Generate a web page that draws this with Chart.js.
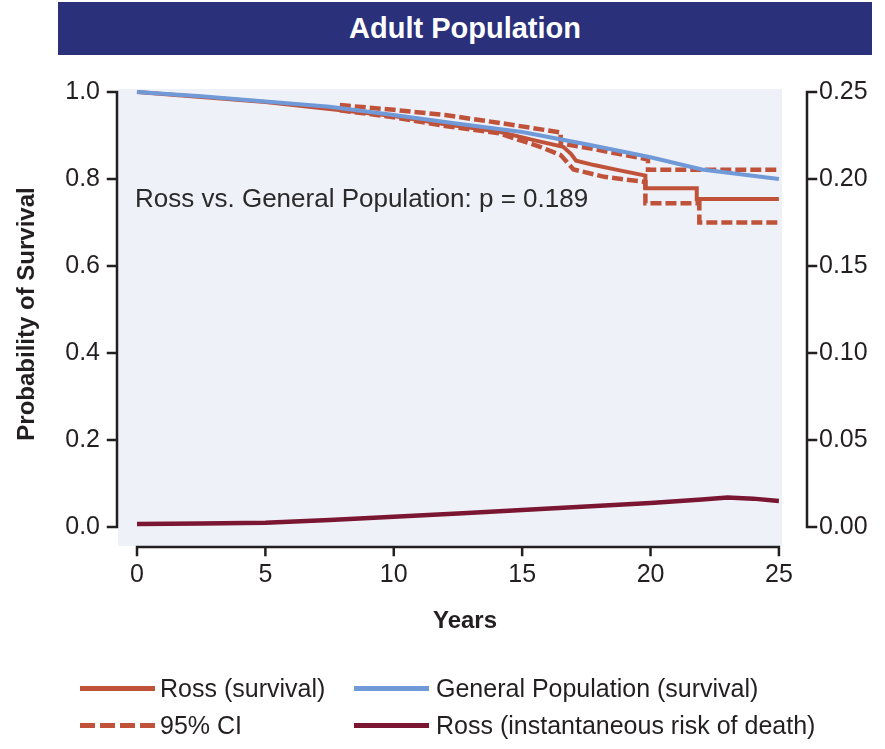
<!DOCTYPE html>
<html>
<head>
<meta charset="utf-8">
<script src="https://cdn.jsdelivr.net/npm/chart.js@4.4.1/dist/chart.umd.min.js"></script>
<style>
  body { margin: 0; background: #fff; font-family: "Liberation Sans", Arial, sans-serif; }
  #wrap { position: relative; width: 885px; height: 749px; }
  #chart { position: absolute; left: 0; top: 0; }
  .title { position: absolute; left: 58px; top: 2px; width: 814px; height: 53px; background: #2b307a;
           color: #fff; font-weight: bold; font-size: 29px; line-height: 53px; text-align: center; }
  .lg { position: absolute; font-size: 25px; color: #231f20; line-height: 30px; white-space: nowrap; }
  .sw { position: absolute; height: 5px; width: 75px; }
</style>
</head>
<body>
<div id="wrap">
  <canvas id="chart" width="885" height="749"></canvas>
  <div class="title">Adult Population</div>

  <div class="sw" style="left:80px;top:686px;background:#c0523a"></div>
  <div class="lg" style="left:160px;top:673px">Ross (survival)</div>
  <div class="sw" style="left:354px;top:686px;background:#7099d8"></div>
  <div class="lg" style="left:436px;top:673px">General Population (survival)</div>

  <div class="sw" style="left:80px;top:723px;background:repeating-linear-gradient(to right,#c0523a 0 15px,transparent 15px 20px)"></div>
  <div class="lg" style="left:160px;top:710px">95% CI</div>
  <div class="sw" style="left:354px;top:723px;background:#7a1632"></div>
  <div class="lg" style="left:436px;top:710px">Ross (instantaneous risk of death)</div>
</div>

<script>
// ── Data ──────────────────────────────────────────────────────────────────────
const xTicks     = [0, 5, 10, 15, 20, 25];
const leftTicks  = [0, 0.2, 0.4, 0.6, 0.8, 1.0];
const rightTicks = [0, 0.05, 0.10, 0.15, 0.20, 0.25];

// general population survival
const genYears = [0, 2.5, 5, 7.5, 10, 12.5, 15, 17.5, 20, 22, 25];
const genSurv  = [1.0, 0.99, 0.978, 0.966, 0.947, 0.927, 0.908, 0.88, 0.85, 0.822, 0.80];

// Ross survival (KM, repeated years = vertical drops)
const rossYears = [0, 5, 10, 12, 14, 15.7, 16.6, 16.9, 17.1, 17.8, 18.7, 19.8, 19.8, 21.8, 21.8, 25];
const rossSurv  = [1.0, 0.977, 0.945, 0.926, 0.91, 0.886, 0.874, 0.858, 0.842, 0.832, 0.821, 0.808, 0.779, 0.779, 0.754, 0.754];

// 95% CI
const ciUpYears = [7.9, 10, 12, 14, 16.5, 16.5, 17.5, 19.9, 19.9, 25];
const ciUpVals  = [0.970, 0.959, 0.947, 0.93, 0.907, 0.882, 0.872, 0.845, 0.821, 0.821];
const ciLoYears = [7.9, 10, 12, 14.1, 15.7, 16.5, 17, 18.2, 19.8, 19.8, 21.9, 21.9, 25];
const ciLoVals  = [0.958, 0.942, 0.922, 0.905, 0.874, 0.855, 0.822, 0.805, 0.793, 0.744, 0.744, 0.70, 0.70];

// Ross instantaneous risk of death (right axis)
const riskYears = [0, 2.5, 5, 7.5, 10, 12.5, 15, 17.5, 20, 22, 23, 24, 25];
const riskVals  = [0.0017, 0.002, 0.0025, 0.004, 0.0059, 0.0078, 0.0098, 0.0118, 0.0138, 0.0158, 0.017, 0.0163, 0.015];

// ── Layout ────────────────────────────────────────────────────────────────────
const FONT = '"Liberation Sans", Arial, sans-serif';
const INK  = '#231f20';
const xLo = -0.74, xHi = 25.12;
const yLo = -0.0437, yHi = 1.0069;

const pts = (xs, ys) => xs.map((x, i) => ({ x, y: ys[i] }));

const frame = {
  id: 'frame',
  beforeDraw(c) {
    const { ctx, chartArea: a } = c;
    ctx.save();
    ctx.fillStyle = '#eff1f8';
    ctx.fillRect(a.left, a.top, a.right - a.left, a.bottom - a.top);
    ctx.restore();
  },
  afterDraw(c) {
    const { ctx, chartArea: a } = c;
    const x = c.scales.x, yl = c.scales.y, yr = c.scales.y2;
    ctx.save();
    ctx.strokeStyle = INK;
    ctx.lineWidth = 2.5;
    ctx.lineCap = 'square';

    // bottom axis
    const by = a.bottom + 1;
    ctx.beginPath();
    ctx.moveTo(x.getPixelForValue(xTicks[0]), by);
    ctx.lineTo(x.getPixelForValue(xTicks[xTicks.length - 1]), by);
    xTicks.forEach(v => { const px = x.getPixelForValue(v); ctx.moveTo(px, by); ctx.lineTo(px, by + 8); });
    ctx.stroke();

    // left axis
    const lx = a.left - 1;
    ctx.beginPath();
    ctx.moveTo(lx, yl.getPixelForValue(0));
    ctx.lineTo(lx, yl.getPixelForValue(1));
    leftTicks.forEach(v => { const py = yl.getPixelForValue(v); ctx.moveTo(lx - 9, py); ctx.lineTo(lx, py); });
    ctx.stroke();

    // right axis
    const rx = a.right + 25;
    ctx.beginPath();
    ctx.moveTo(rx, yr.getPixelForValue(0));
    ctx.lineTo(rx, yr.getPixelForValue(0.25));
    rightTicks.forEach(v => { const py = yr.getPixelForValue(v); ctx.moveTo(rx, py); ctx.lineTo(rx + 9, py); });
    ctx.stroke();

    // titles + annotation
    ctx.fillStyle = INK;
    ctx.textBaseline = 'middle';
    ctx.textAlign = 'center';
    ctx.font = 'bold 24px ' + FONT;
    ctx.fillText('Years', 465, 621);
    ctx.save();
    ctx.translate(27, 314);
    ctx.rotate(-Math.PI / 2);
    ctx.fillText('Probability of Survival', 0, 0);
    ctx.restore();

    ctx.textAlign = 'left';
    ctx.font = '26px ' + FONT;
    ctx.fillStyle = '#2a2a2a';
    ctx.fillText('Ross vs. General Population: p = 0.189', 135, 200);
    ctx.restore();
  }
};

const tickFont = { family: FONT, size: 25 };

new Chart(document.getElementById('chart'), {
  type: 'line',
  data: {
    datasets: [
      { data: pts(genYears, genSurv), borderColor: '#7099d8', borderWidth: 4, yAxisID: 'y' },
      { data: pts(rossYears, rossSurv), borderColor: '#c0523a', borderWidth: 4, yAxisID: 'y' },
      { data: pts(ciUpYears, ciUpVals), borderColor: '#c0523a', borderWidth: 4.5, borderDash: [11, 4], yAxisID: 'y' },
      { data: pts(ciLoYears, ciLoVals), borderColor: '#c0523a', borderWidth: 4.5, borderDash: [11, 4], yAxisID: 'y' },
      { data: pts(riskYears, riskVals), borderColor: '#7a1632', borderWidth: 4.5, yAxisID: 'y2' }
    ]
  },
  options: {
    responsive: false,
    animation: false,
    parsing: false,
    layout: { padding: { top: 89, left: 0, right: 0, bottom: 0 } },
    elements: { point: { radius: 0 }, line: { tension: 0, borderCapStyle: 'butt' } },
    plugins: { legend: { display: false }, tooltip: { enabled: false } },
    scales: {
      x: {
        type: 'linear', min: xLo, max: xHi,
        afterBuildTicks: s => { s.ticks = xTicks.map(v => ({ value: v })); },
        afterFit: s => { s.height = 749 - 546; },
        grid: { display: false, drawTicks: false },
        border: { display: false },
        ticks: { padding: 14, font: tickFont, color: INK, maxRotation: 0, autoSkip: false, callback: v => String(v) }
      },
      y: {
        position: 'left', min: yLo, max: yHi,
        afterBuildTicks: s => { s.ticks = leftTicks.map(v => ({ value: v })); },
        afterFit: s => { s.width = 118; },
        grid: { display: false, drawTicks: false },
        border: { display: false },
        ticks: { padding: 18, font: tickFont, color: INK, callback: v => v.toFixed(1) }
      },
      y2: {
        position: 'right', min: yLo * 0.25, max: yHi * 0.25,
        afterBuildTicks: s => { s.ticks = rightTicks.map(v => ({ value: v })); },
        afterFit: s => { s.width = 103; },
        grid: { display: false, drawTicks: false },
        border: { display: false },
        ticks: { padding: 37, font: tickFont, color: INK, callback: v => v.toFixed(2) }
      }
    }
  },
  plugins: [frame]
});
</script>
</body>
</html>
